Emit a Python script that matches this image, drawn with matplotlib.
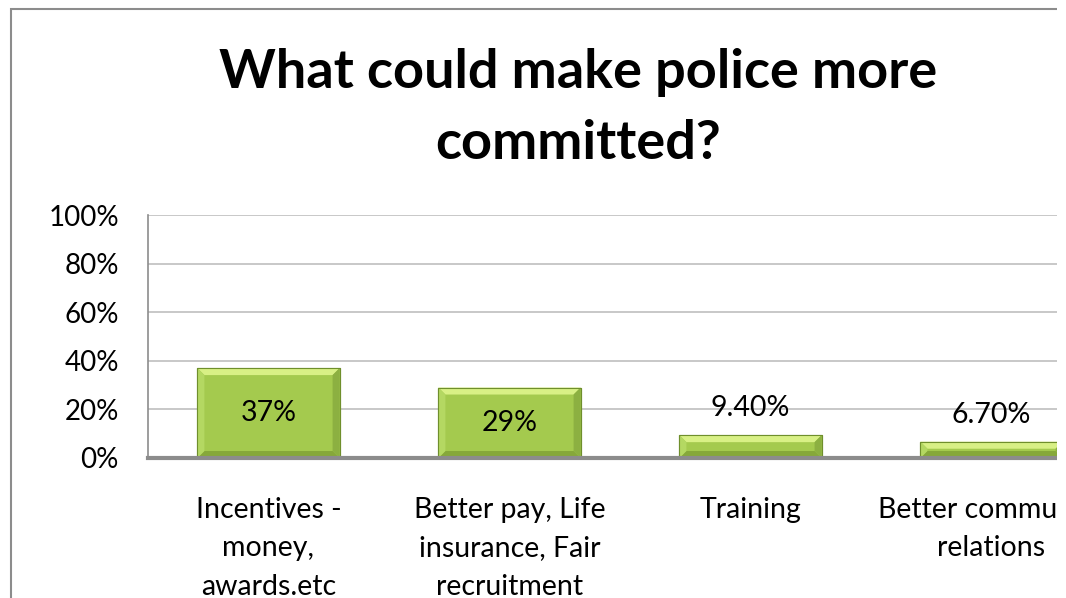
import matplotlib
matplotlib.use("Agg")
import matplotlib.pyplot as plt
from matplotlib.patches import Polygon, Rectangle

categories = ["Incentives -\nmoney,\nawards.etc",
              "Better pay, Life\ninsurance, Fair\nrecruitment",
              "Training",
              "Better community\nrelations"]
values = [37, 29, 9.4, 6.7]
value_labels = ["37%", "29%", "9.40%", "6.70%"]
label_inside = [True, True, False, False]
yticks = [0, 20, 40, 60, 80, 100]
title = "What could make police more\ncommitted?"

plt.rcParams['font.family'] = ['Lato', 'DejaVu Sans']

W, H = 1066, 598
fig = plt.figure(figsize=(W / 100, H / 100), dpi=100)
ax = fig.add_axes([148 / W, 140 / H, 964 / W, 243 / H])

bar_w = 0.59
bars = ax.bar(range(len(values)), values, width=bar_w, color='#A4CA4E',
              edgecolor='#6F8F2C', linewidth=0.8, zorder=2)

# bevel edges around each bar (about 7 px wide)
dx = 7 / 241
for rect in bars:
    x0, w, h = rect.get_x(), rect.get_width(), rect.get_height()
    dy = min(7 * 100 / 243, h / 2)
    faces = [
        ([(x0, h), (x0 + w, h), (x0 + w - dx, h - dy), (x0 + dx, h - dy)], '#D8F085'),
        ([(x0, 0), (x0 + w, 0), (x0 + w - dx, dy), (x0 + dx, dy)], '#86A83A'),
        ([(x0, 0), (x0, h), (x0 + dx, h - dy), (x0 + dx, dy)], '#B4D862'),
        ([(x0 + w, 0), (x0 + w, h), (x0 + w - dx, h - dy), (x0 + w - dx, dy)], '#8CB041'),
    ]
    for pts, c in faces:
        ax.add_patch(Polygon(pts, closed=True, facecolor=c, edgecolor='none', zorder=3))
    ax.add_patch(Rectangle((x0, 0), w, h, facecolor='none', edgecolor='#6F8F2C',
                           linewidth=0.8, zorder=4))

for i, (v, lbl, inside) in enumerate(zip(values, value_labels, label_inside)):
    if inside:
        ax.text(i, v / 2, lbl, ha='center', va='center', fontsize=20.5, zorder=5)
    else:
        ax.annotate(lbl, (i, v), xytext=(0, 10), textcoords='offset points',
                    ha='center', va='bottom', fontsize=20.5, zorder=5)

ax.set_xlim(-0.5, len(values) - 0.5)
ax.set_ylim(0, 100)
ax.set_yticks(yticks)
ax.set_yticklabels([f"{t}%" for t in yticks])
ax.set_xticks(range(len(values)))
ax.set_xticklabels(categories)
for lab in ax.get_xticklabels():
    lab.set_linespacing(1.6)
ax.tick_params(axis='y', length=0, pad=21, labelsize=20)
ax.tick_params(axis='x', length=0, pad=28, labelsize=20.5)

ax.grid(axis='y', color='#BFBFBF', linewidth=1.2, zorder=0)
ax.set_axisbelow(True)
for s in ['top', 'right', 'bottom']:
    ax.spines[s].set_visible(False)
ax.spines['left'].set_color('#8C8C8C')
ax.spines['left'].set_linewidth(1.2)
ax.axhline(0, color='#8C8C8C', linewidth=3, zorder=6, clip_on=False)

fig.text(578 / W, 1 - 48 / H, title, ha='center', va='top', fontsize=39,
         fontweight='bold', linespacing=1.55)

# chart frame and the white margin on the right
fig.add_artist(Rectangle((11 / W, -0.05), 2, 1.05 - 9 / H, transform=fig.transFigure,
                         facecolor='none', edgecolor='#8C8C8C', linewidth=1.5,
                         clip_on=False))
fig.add_artist(Rectangle((1057 / W, 0), 1, 1, transform=fig.transFigure,
                         facecolor='white', edgecolor='none', zorder=10))

fig.savefig('out.png', dpi=100)
